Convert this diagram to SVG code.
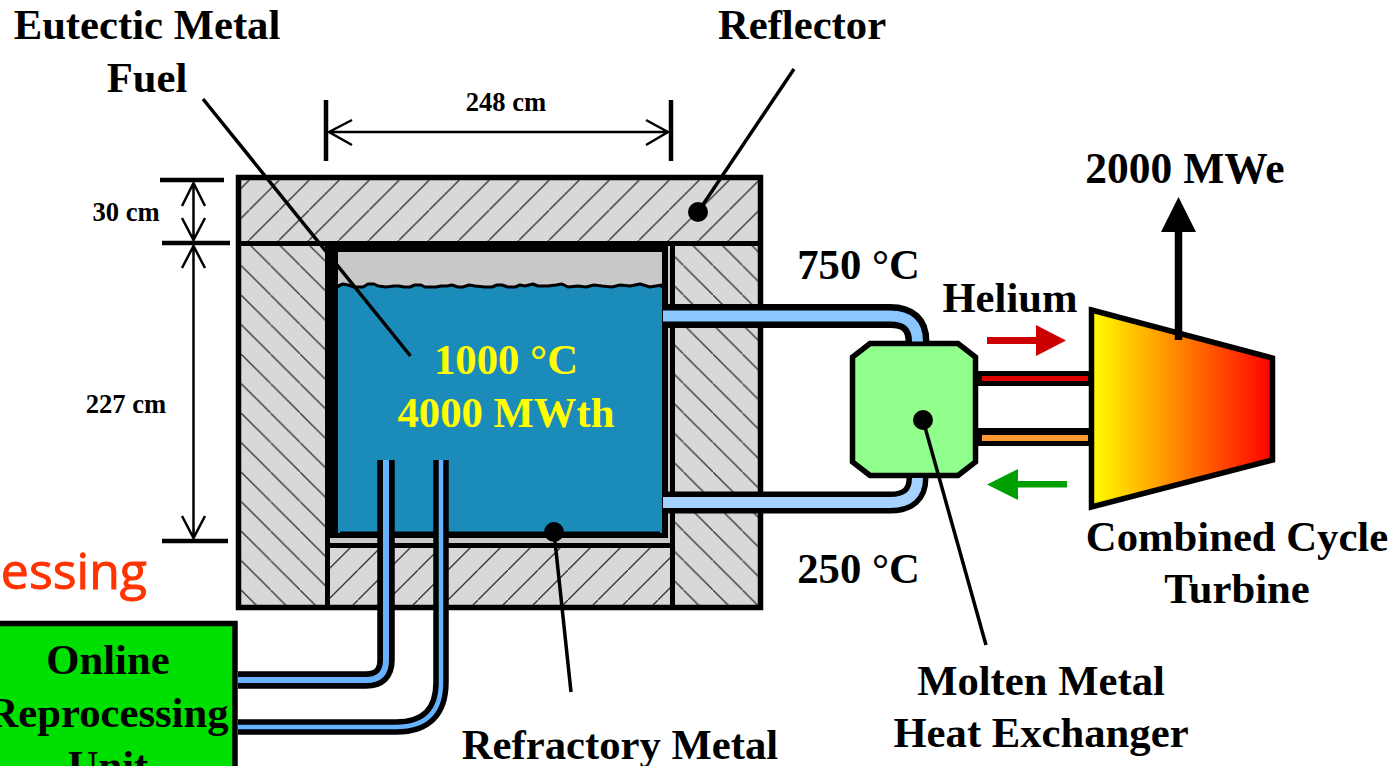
<svg xmlns="http://www.w3.org/2000/svg" width="1395" height="766" viewBox="0 0 1395 766">
<style>
text{font-family:"Liberation Serif","Times New Roman",serif;font-weight:700;fill:#000;text-anchor:middle}
.l{font-size:42.7px}
.s{font-size:26.6px}
.y{fill:#ffff00}
.lead{stroke:#000;stroke-width:3.5;fill:none}
.dim{stroke:#000;stroke-width:2.5;fill:none}
.tick{stroke:#000;stroke-width:4.5;fill:none}
.ph{fill:none;stroke-linejoin:round}
.hatchline{stroke:#333;stroke-width:1.3}
</style>
<defs>
<linearGradient id="tg" x1="0" y1="0" x2="1" y2="0"><stop offset="0" stop-color="#ffff00"/><stop offset="1" stop-color="#ff0000"/></linearGradient>
<pattern id="h1" patternUnits="userSpaceOnUse" width="30" height="30" patternTransform="translate(9.3 0)"><path class="hatchline" d="M-3 33L33 -3"/></pattern>
<pattern id="h2" patternUnits="userSpaceOnUse" width="29.5" height="29.5" patternTransform="translate(-24.4 0)"><path class="hatchline" d="M-3 -3L32.5 32.5"/></pattern>
<pattern id="h3" patternUnits="userSpaceOnUse" width="29.5" height="29.5" patternTransform="translate(5 0)"><path class="hatchline" d="M-3 -3L32.5 32.5"/></pattern>
<pattern id="h4" patternUnits="userSpaceOnUse" width="30" height="30" patternTransform="translate(28 0)"><path class="hatchline" d="M-3 33L33 -3"/></pattern>
</defs>

<g id="reactor-block">
<rect x="238.500" y="177.500" width="522" height="430" fill="#d8d8d8"/>
<rect x="238.500" y="177.500" width="522" height="66" fill="url(#h1)"/>
<rect x="238.500" y="243.500" width="88" height="364" fill="url(#h2)"/>
<rect x="672" y="243.500" width="88" height="364" fill="url(#h3)"/>
<rect x="328" y="546" width="344" height="60" fill="url(#h4)"/>
<rect x="238.500" y="177.500" width="522" height="430" fill="none" stroke="#000" stroke-width="5.500"/>
<rect x="238" y="241" width="525" height="5"/>
</g>

<g id="vessel">
<rect x="325" y="241" width="5" height="366"/>
<rect x="670" y="241" width="5" height="366"/>
<rect x="330" y="538" width="340" height="5" fill="#c8c8c8"/>
<rect x="330" y="543" width="340" height="5"/>
<rect x="326" y="241" width="344" height="297"/>
<rect x="668" y="246" width="2" height="292" fill="#c8c8c8"/>
<rect x="338" y="252" width="324" height="281" fill="#c8c8c8"/>
<path d="M338 286L343 284L348 285L354 287L363 287L368 284L374 284L378 286L386 287L394 286L399 286L404 287L410 287L415 285L421 285L425 287L436 287L441 286L447 286L452 285L458 287L463 287L469 285L475 286L485 287L492 287L497 285L502 285L508 287L515 287L520 285L525 286L533 284L538 286L548 286L556 285L562 284L568 287L578 286L586 287L594 285L602 286L612 287L620 285L630 286L640 284L650 287L662 285V533H338Z" fill="#1b8cba" stroke="#000" stroke-width="3" stroke-linejoin="round"/>
<rect x="338" y="288" width="2" height="245" fill="#1b8cba"/>
<rect x="660" y="288" width="2" height="245" fill="#1b8cba"/>
</g>

<g id="heat-exchanger">
<path d="M870 343.500H958L975.500 357V462L958 475.500H870L852.500 462V357Z" fill="#90ff8c" stroke="#000" stroke-width="5.500"/>
</g>

<g id="turbine">
<path d="M1091.500 310L1272.500 358V460L1091.500 507Z" fill="url(#tg)" stroke="#000" stroke-width="5.500"/>
</g>

<g id="processing-unit">
<rect x="-10" y="623.500" width="245" height="160" fill="#00e000" stroke="#000" stroke-width="5.500"/>
<text class="l" x="108" y="674">Online</text>
<text class="l" x="108" y="727">Reprocessing</text>
<text class="l" x="108" y="780">Unit</text>
</g>

<g id="connectors">
<path class="ph" d="M663 316H890Q917.500 316 917.500 341.500" stroke="#000" stroke-width="24"/>
<path class="ph" d="M663 316H890Q917.500 316 917.500 341.500" stroke="#8cc6ff" stroke-width="11"/>
<path class="ph" d="M663 502.500H890Q917.500 502.500 917.500 478" stroke="#000" stroke-width="22"/>
<path class="ph" d="M663 502.500H890Q917.500 502.500 917.500 478" stroke="#a6d2ff" stroke-width="11"/>
<path class="ph" d="M386 460V660Q386 680 366 680H238" stroke="#000" stroke-width="17.500"/>
<path class="ph" d="M386 460V660Q386 680 366 680H238" stroke="#66b2ff" stroke-width="6"/>
<path class="ph" d="M441 460V682Q441 727 396 727H238" stroke="#000" stroke-width="15.500"/>
<path class="ph" d="M441 460V682Q441 727 396 727H238" stroke="#66b2ff" stroke-width="4.500"/>
<rect x="976" y="371" width="115" height="15"/>
<rect x="982" y="376" width="106" height="5" fill="#e00000"/>
<rect x="976" y="428" width="115" height="18"/>
<rect x="982" y="435" width="106" height="6" fill="#ff9933"/>
<path d="M987 337H1036V325L1066 340.500L1036 356V344H987Z" fill="#cc0000"/>
<path d="M1067 481H1018V469L987 484.500L1018 500V487.500H1067Z" fill="#00a000"/>
<path d="M1178.500 340V232" stroke="#000" stroke-width="7.500" fill="none"/>
<path d="M1178.500 197L1196 232H1161Z"/>
<path class="lead" d="M203 99L410.500 356"/>
<path class="lead" d="M794 69L698 212"/>
<path class="lead" d="M554 532L571 692"/>
<path class="lead" d="M923 420L986 645"/>
<path class="tick" d="M326 100V161M671 100V161M160 180H224M162 243H230M162 541H228"/>
<path class="dim" d="M329 132H668M352 120L329 132L352 145M646 120L668 132L646 145"/>
<path class="dim" d="M193.500 183V240M182 206L193.500 183L205 206M182 218L193.500 240L205 218"/>
<path class="dim" d="M193.500 246V538M182 268L193.500 246L205 268M182 516L193.500 538L205 516"/>
</g>

<g id="dots">
<circle cx="698" cy="212" r="10"/>
<circle cx="554" cy="532" r="10"/>
<circle cx="923" cy="420" r="10"/>
</g>

<g id="labels">
<text class="l" x="147" y="39">Eutectic Metal</text>
<text class="l" x="147" y="92">Fuel</text>
<text class="l" x="802" y="39">Reflector</text>
<text class="s" x="506" y="111">248 cm</text>
<text class="s" x="126" y="221">30 cm</text>
<text class="s" x="126" y="413">227 cm</text>
<text class="l y" x="506" y="374">1000 °C</text>
<text class="l y" x="506" y="427">4000 MWth</text>
<text class="l" x="858.500" y="279">750 °C</text>
<text class="l" x="858.500" y="583">250 °C</text>
<text class="l" x="1010" y="312">Helium</text>
<text class="l" x="1185" y="183" style="font-size:43.500px">2000 MWe</text>
<text class="l" x="1237" y="551">Combined Cycle</text>
<text class="l" x="1237" y="603">Turbine</text>
<text class="l" x="1041" y="695">Molten Metal</text>
<text class="l" x="1041" y="747">Heat Exchanger</text>
<text class="l" x="620" y="759">Refractory Metal</text>
<text x="147" y="589" style="font-family:'Open Sans','Liberation Sans',sans-serif;font-weight:400;font-size:50px;fill:#ff3300;stroke:#ff3300;stroke-width:0.9;text-anchor:end">essing</text>
</g>
</svg>
